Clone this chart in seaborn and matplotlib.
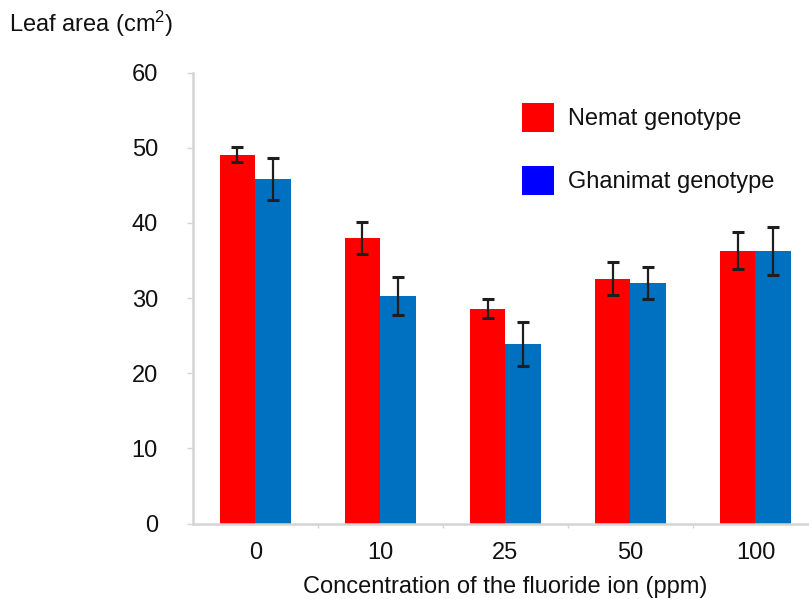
import matplotlib
matplotlib.use("Agg")
import matplotlib.pyplot as plt
from matplotlib.patches import Patch
import numpy as np
import pandas as pd
import seaborn as sns

# Fluoride concentrations (ppm) and the two genotypes
concentrations = ["0", "10", "25", "50", "100"]
genotypes = ["Nemat genotype", "Ghanimat genotype"]

# Mean leaf area (cm^2) and error bar half-widths for each genotype
nemat_area = [49.1, 38.0, 28.6, 32.6, 36.3]
nemat_err = [1.05, 2.1, 1.3, 2.15, 2.45]
ghanimat_area = [45.8, 30.3, 23.9, 32.0, 36.3]
ghanimat_err = [2.8, 2.5, 2.9, 2.1, 3.2]

y_ticks = [0, 10, 20, 30, 40, 50, 60]

bar_colors = ["#FF0000", "#0070C0"]
legend_colors = ["#FF0000", "#0000FF"]

df = pd.DataFrame({
    "conc": concentrations * 2,
    "genotype": [genotypes[0]] * len(concentrations) + [genotypes[1]] * len(concentrations),
    "area": nemat_area + ghanimat_area,
})
errors = [nemat_err, ghanimat_err]

sns.set_theme(style="white")
plt.rcParams["font.family"] = ["Liberation Sans", "DejaVu Sans"]
plt.rcParams["mathtext.fontset"] = "custom"
plt.rcParams["mathtext.rm"] = "Liberation Sans"
plt.rcParams["mathtext.it"] = "Liberation Sans:italic"

FS = 17
TXT = "#111111"
AXC = "#d4d4d4"

fig = plt.figure(figsize=(8.09, 5.99), dpi=100)
ax = fig.add_axes([192.7 / 809, 75.5 / 599, (818 - 192.7) / 809, (523.5 - 72.7) / 599])

sns.barplot(data=df, x="conc", y="area", hue="genotype", order=concentrations,
            hue_order=genotypes, palette=bar_colors, width=0.57, errorbar=None,
            saturation=1, linewidth=0, legend=False, ax=ax)

# Error bars centred on each drawn bar
for container, err in zip(ax.containers, errors):
    xs = [p.get_x() + p.get_width() / 2 for p in container.patches]
    hs = [p.get_height() for p in container.patches]
    ax.errorbar(xs, hs, yerr=err, fmt="none", ecolor="#1e1e1e", elinewidth=1.6,
                capsize=4, capthick=2.2, zorder=5)

ax.set_ylim(0, 60)
ax.set_yticks(y_ticks)
ax.set_yticklabels([str(t) for t in y_ticks])
ax.set_xlim(-0.5, 4.5)
ax.set_xticks(np.arange(len(concentrations)))
ax.set_xticklabels(concentrations)
ax.set_xticks(np.arange(len(concentrations)) + 0.5, minor=True)

for side in ["top", "right"]:
    ax.spines[side].set_visible(False)
for side in ["left", "bottom"]:
    ax.spines[side].set_color(AXC)
    ax.spines[side].set_linewidth(1.8)

ax.tick_params(axis="y", which="major", left=True, length=4, width=1, color=AXC,
               pad=21, labelsize=FS, labelcolor=TXT)
ax.tick_params(axis="x", which="major", bottom=False, length=0, pad=13,
               labelsize=FS, labelcolor=TXT)
ax.tick_params(axis="x", which="minor", bottom=True, length=3, width=1, color=AXC)

ax.set_xlabel("Concentration of the fluoride ion (ppm)", fontsize=FS, color=TXT, labelpad=9)
ax.set_ylabel("")

fig.text(9 / 809, 1 - 32 / 599, "Leaf area (cm$^{2}$)", fontsize=FS, color=TXT,
         ha="left", va="baseline")

handles = [Patch(facecolor=c, edgecolor="none") for c in legend_colors]
fig.legend(handles, genotypes, loc="upper left", bbox_to_anchor=(521.7 / 809, 1 - 103 / 599),
           frameon=False, fontsize=FS, handlelength=1.36, handleheight=1.5,
           handletextpad=0.6, labelspacing=1.45, borderpad=0, borderaxespad=0,
           labelcolor=TXT)

fig.savefig("out.png", dpi=100)
